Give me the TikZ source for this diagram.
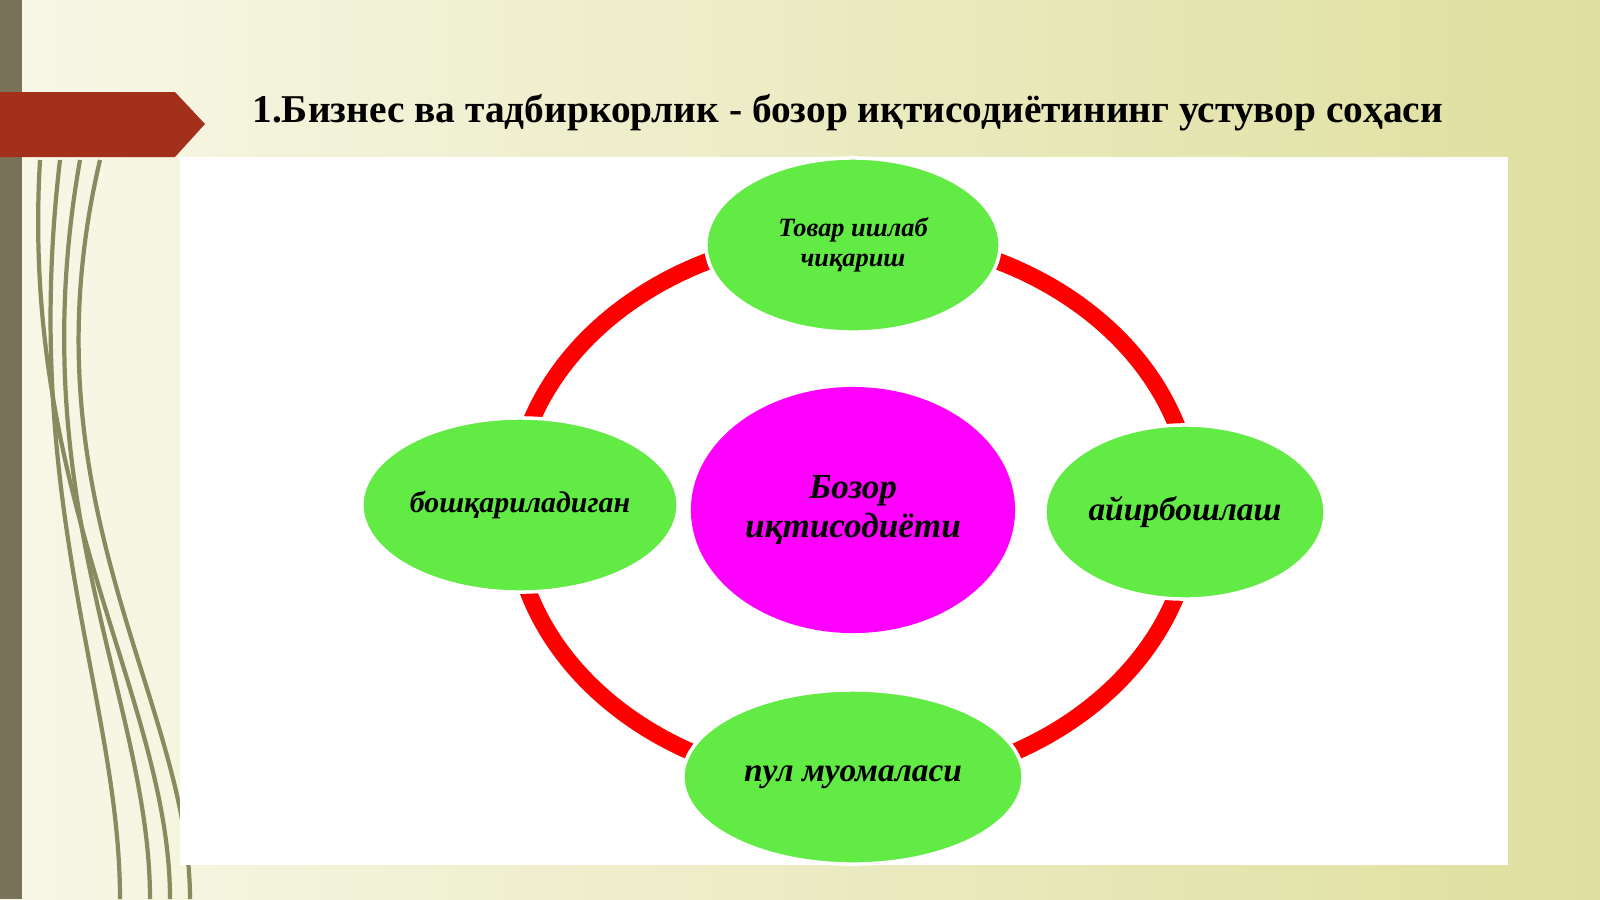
\documentclass[tikz,border=0pt]{standalone}
\usepackage{fontspec}
\setmainfont{Liberation Serif}
\usetikzlibrary{positioning,shapes.geometric}
\definecolor{leafgreen}{HTML}{62EA45}
\definecolor{hubpink}{HTML}{FF00FF}
\definecolor{tagred}{HTML}{A3301A}
\definecolor{stripbrown}{HTML}{7A7258}
\definecolor{grass}{HTML}{8A8A60}
\begin{document}
\begin{tikzpicture}[x=0.01cm,y=-0.01cm,
  leaf/.style={ellipse,fill=leafgreen,draw=white,line width=1pt,inner sep=0pt,align=center,font=\bfseries\itshape},
  hub/.style={ellipse,fill=hubpink,inner sep=0pt,align=center,font=\bfseries\itshape\fontsize{10}{11}\selectfont}]

  % background
  \shade[left color=white!85!olive!40,right color=olive!25!white] (0,0) rectangle (1600,899);
  \useasboundingbox (0,0) rectangle (1600,899);
  \fill[stripbrown] (0,0) rectangle (22,899);
  \foreach \a/\b in {80/150,60/120,40/170,100/190}
    \draw[grass,line width=1.2pt] (\a,160) .. controls (20,500) and (\b,700) .. (\b,899);
  \fill[white] (180,157) rectangle (1508,865);
  \fill[tagred] (0,92) -- (175,92) -- (205,124) -- (175,157) -- (0,157) -- cycle;
  \node[anchor=west,font=\bfseries\fontsize{11.2}{13}\selectfont] (title) at (240,113)
    {1.Бизнес ва тадбиркорлик - бозор иқтисодиётининг устувор соҳаси};

  % ring
  \draw[red,line width=0.17cm] (853,510) ellipse [x radius=340,y radius=275];

  \node[hub,minimum width=3.24cm,minimum height=2.46cm] (bozor) at (853,510) {Бозор\\иқтисодиёти};
  \node[leaf,minimum width=2.94cm,minimum height=1.74cm,font=\bfseries\itshape\fontsize{7.5}{8.5}\selectfont] (tovar) at (853,245) {Товар ишлаб\\чиқариш};
  \node[leaf,minimum width=3.16cm,minimum height=1.74cm,font=\bfseries\itshape\fontsize{8.5}{10}\selectfont] (boshq) at (520,505) {бошқариладиган};
  \node[leaf,minimum width=2.80cm,minimum height=1.74cm,font=\bfseries\itshape\fontsize{9.5}{11}\selectfont] (ayir) at (1185,512) {айирбошлаш};
  \node[leaf,minimum width=3.40cm,minimum height=1.74cm,font=\bfseries\itshape\fontsize{9.5}{11}\selectfont] (pul) at (853,777) {пул муомаласи};
\end{tikzpicture}
\end{document}
